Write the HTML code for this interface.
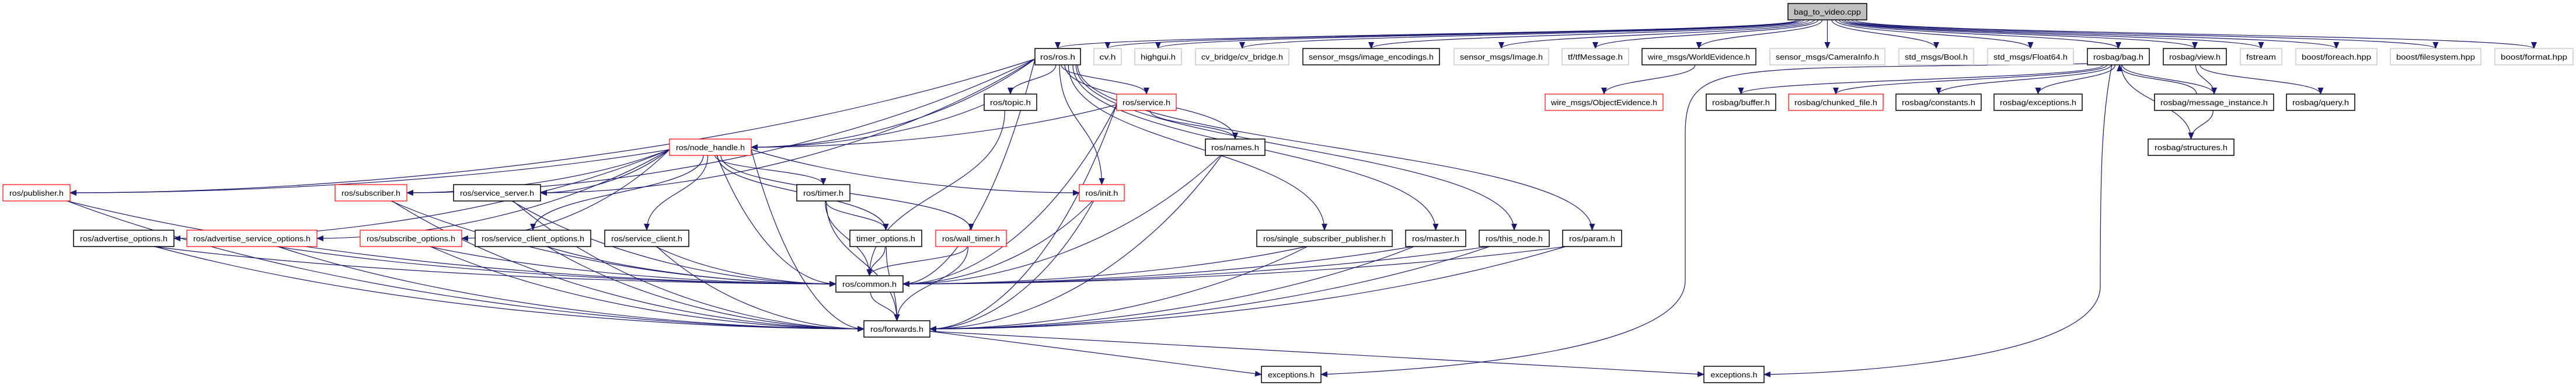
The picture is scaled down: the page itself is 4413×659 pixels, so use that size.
<!DOCTYPE html>
<html><head><meta charset="utf-8"><style>
html,body{margin:0;padding:0;background:#fff;}
svg{display:block;}
text{font-family:"Liberation Sans","DejaVu Sans",sans-serif;font-size:13px;fill:#000;}
</style></head><body>
<svg id="g" width="4413" height="659" viewBox="0 0 4413 659" xmlns="http://www.w3.org/2000/svg">
<defs><marker id="a" markerWidth="12" markerHeight="10" refX="11" refY="5" orient="auto" markerUnits="userSpaceOnUse"><path d="M0,0 L12,5 L0,10 z" fill="#191970"/></marker></defs>
<g id="edges" fill="none" stroke="#191970" stroke-width="1.2"></g>
<g id="nodes">
<rect x="3063" y="6" width="135" height="28" fill="#bfbfbf" stroke="#000" stroke-width="1.5"/><text x="3130.5" y="25" text-anchor="middle" textLength="115" lengthAdjust="spacingAndGlyphs">bag_to_video.cpp</text>
</g>
</svg>
<script>
var R=[6,83,161,238,316,394,472,549,627];
var N={
top:["bag_to_video.cpp",3063,3198,0,"t"],
ros:["ros/ros.h",1773,1851,1,"b"],
cv:["cv.h",1874,1921,1,"g"],
hg:["highgui.h",1944,2024,1,"g"],
cvb:["cv_bridge/cv_bridge.h",2048,2208,1,"g"],
ie:["sensor_msgs/image_encodings.h",2232,2466,1,"b"],
img:["sensor_msgs/Image.h",2491,2653,1,"g"],
tf:["tf/tfMessage.h",2676,2790,1,"g"],
we:["wire_msgs/WorldEvidence.h",2813,3008,1,"b"],
ci:["sensor_msgs/CameraInfo.h",3032,3229,1,"g"],
bo:["std_msgs/Bool.h",3253,3381,1,"g"],
f64:["std_msgs/Float64.h",3405,3552,1,"g"],
bag:["rosbag/bag.h",3576,3682,1,"b"],
view:["rosbag/view.h",3706,3814,1,"b"],
fs:["fstream",3838,3909,1,"g"],
fe:["boost/foreach.hpp",3933,4072,1,"g"],
fsy:["boost/filesystem.hpp",4095,4250,1,"g"],
fmt:["boost/format.hpp",4274,4408,1,"g"],
topic:["ros/topic.h",1686,1776,2,"b"],
srv:["ros/service.h",1913,2015,2,"r"],
oe:["wire_msgs/ObjectEvidence.h",2647,2849,2,"r"],
buf:["rosbag/buffer.h",2923,3042,2,"b"],
cf:["rosbag/chunked_file.h",3064,3226,2,"r"],
con:["rosbag/constants.h",3248,3394,2,"b"],
rex:["rosbag/exceptions.h",3416,3567,2,"b"],
mi:["rosbag/message_instance.h",3691,3895,2,"b"],
q:["rosbag/query.h",3917,4034,2,"b"],
nh:["ros/node_handle.h",1147,1287,3,"r"],
names:["ros/names.h",2065,2167,3,"b"],
st:["rosbag/structures.h",3680,3827,3,"b"],
pub:["ros/publisher.h",5,120,4,"r"],
sub:["ros/subscriber.h",574,697,4,"r"],
ss:["ros/service_server.h",777,926,4,"b"],
tim:["ros/timer.h",1365,1456,4,"b"],
init:["ros/init.h",1849,1926,4,"r"],
ao:["ros/advertise_options.h",126,298,5,"b"],
aso:["ros/advertise_service_options.h",320,543,5,"r"],
so:["ros/subscribe_options.h",617,791,5,"r"],
sco:["ros/service_client_options.h",814,1012,5,"b"],
sc:["ros/service_client.h",1036,1180,5,"b"],
to:["timer_options.h",1456,1579,5,"b"],
wt:["ros/wall_timer.h",1603,1724,5,"r"],
ssp:["ros/single_subscriber_publisher.h",2153,2385,5,"b"],
ma:["ros/master.h",2408,2511,5,"b"],
tn:["ros/this_node.h",2534,2654,5,"b"],
par:["ros/param.h",2677,2778,5,"b"],
com:["ros/common.h",1432,1547,6,"b"],
fwd:["ros/forwards.h",1480,1593,7,"b"],
ex1:["exceptions.h",2161,2263,8,"b"],
ex2:["exceptions.h",2919,3022,8,"b"]
};
var E=[];
["ros","cv","hg","cvb","ie","img","tf","we","ci","bo","f64","bag","view","fs","fe","fsy","fmt"].forEach(function(t){E.push(["top",t]);});
E.push(["we","oe"]);
["topic","srv","nh","pub","sub","ss","init","names","ssp","ma","tn","par","com"].forEach(function(t){E.push(["ros",t]);});
E.push(["topic","nh"],["topic","com"],["srv","nh"],["srv","names"],["srv","com"],["srv","fwd"],["names","com"],["names","fwd"]);
["pub","sub","ss","tim","ao","aso","so","sco","sc","to","wt","com","fwd","init"].forEach(function(t){E.push(["nh",t]);});
["pub","sub","ss","ao","aso","so","sco","sc","to","wt","init","ssp","ma","tn","par","tim"].forEach(function(s){E.push([s,"com"]);E.push([s,"fwd"]);});
E.push(["tim","to"],["com","fwd"],["fwd","ex1"],["fwd","ex2"]);
["buf","cf","con","rex","mi","st","ex1","ex2"].forEach(function(t){E.push(["bag",t]);});
E.push(["view","mi"],["view","q"],["mi","bag"],["mi","st"]);
var SIDE={"nh>pub":1,"nh>sub":1,"ros>nh":1,"ros>pub":1,"ros>sub":1,"topic>nh":1,"srv>nh":1,"nh>init":1,"nh>aso":1,"nh>so":1,"nh>ao":1,"ros>ss":1,"nh>ss":1};
var SIDESRC={nh:1,ros:1,topic:1,srv:1};
var eg=document.getElementById("edges"),ng=document.getElementById("nodes");
var NS="http://www.w3.org/2000/svg";
function cx(n){return (n[1]+n[2])/2;}
E.forEach(function(e){
 var s=N[e[0]],t=N[e[1]];var sx,sy,tx,ty,d;
 if(t[3]>s[3]){
  sx=cx(s)+(cx(t)-cx(s))*0.04;sx=Math.max(s[1]+5,Math.min(s[2]-5,sx));sy=R[s[3]]+28;
  tx=cx(t);ty=R[t[3]];
  var dx=Math.abs(tx-sx),dy=ty-sy;
  var side=SIDE[e[0]+">"+e[1]]||((e[1]=="com"||e[1]=="fwd")&&dx>250);
  if(e[0]=="bag"&&e[1]=="ex1"){sx=3576;sy=R[1]+26;d="M"+sx+","+sy+" C2950,120 2887,100 2887,230 L2887,480 C2887,610 2400,635 2263,641";}
  else if(e[0]=="bag"&&e[1]=="ex2"){sx=3618;d="M"+sx+","+sy+" C3600,200 3598,300 3598,490 C3598,610 3200,638 3022,641";}
  else if(e[1]=="ex1"||e[1]=="ex2"){sy=R[7]+18;sx=s[2];tx=t[1];ty=R[8]+14;d="M"+sx+","+sy+" L"+tx+","+ty;}
  else if(side){
   var left=tx>sx; tx=left?t[1]:t[2]; ty=R[t[3]]+14;
   if(SIDESRC[e[0]]&&Math.abs(cx(t)-cx(s))>300){sy=R[s[3]]+18;sx=left?s[2]:s[1];}
   var ddx=tx-sx;
   d="M"+sx+","+sy+" C"+(sx+ddx*0.3)+","+(sy+(ty-sy)*0.7)+" "+(tx-ddx*0.3)+","+ty+" "+tx+","+ty;
  }
  else{var m=(ty-sy)*0.5;d="M"+sx+","+sy+" C"+sx+","+(sy+m)+" "+tx+","+(ty-m)+" "+tx+","+ty;}
 } else {
  sx=cx(s)-30;sy=R[s[3]];tx=t[1]+55;ty=R[t[3]]+28;
  d="M"+sx+","+sy+" C"+sx+","+(sy-30)+" "+tx+","+(ty+30)+" "+tx+","+ty;
 }
 var p=document.createElementNS(NS,"path");p.setAttribute("d",d);p.setAttribute("marker-end","url(#a)");eg.appendChild(p);
});
for(var k in N){if(k=="top")continue;var n=N[k];
 var r=document.createElementNS(NS,"rect");r.setAttribute("x",n[1]);r.setAttribute("y",R[n[3]]);r.setAttribute("width",n[2]-n[1]);r.setAttribute("height",28);r.setAttribute("fill","#fff");
 r.setAttribute("stroke",n[4]=="r"?"#ff0000":(n[4]=="g"?"#bfbfbf":"#000"));r.setAttribute("stroke-width",n[4]=="b"?"1.5":"1.2");ng.appendChild(r);
}
</script>
<div style="position:absolute;left:0;top:0;width:4413px;height:659px;pointer-events:none">
<svg width="4413" height="659" xmlns="http://www.w3.org/2000/svg" style="position:absolute;left:0;top:0">
<g text-anchor="middle" style="font-family:'Liberation Sans','DejaVu Sans',sans-serif;font-size:13px">
<text x="1812" y="102" textLength="60" lengthAdjust="spacingAndGlyphs">ros/ros.h</text>
<text x="1897.5" y="102" textLength="28" lengthAdjust="spacingAndGlyphs">cv.h</text>
<text x="1984" y="102" textLength="60" lengthAdjust="spacingAndGlyphs">highgui.h</text>
<text x="2128" y="102" textLength="140" lengthAdjust="spacingAndGlyphs">cv_bridge/cv_bridge.h</text>
<text x="2349" y="102" textLength="214" lengthAdjust="spacingAndGlyphs">sensor_msgs/image_encodings.h</text>
<text x="2572" y="102" textLength="142" lengthAdjust="spacingAndGlyphs">sensor_msgs/Image.h</text>
<text x="2733" y="102" textLength="94" lengthAdjust="spacingAndGlyphs">tf/tfMessage.h</text>
<text x="2910.5" y="102" textLength="175" lengthAdjust="spacingAndGlyphs">wire_msgs/WorldEvidence.h</text>
<text x="3130.5" y="102" textLength="177" lengthAdjust="spacingAndGlyphs">sensor_msgs/CameraInfo.h</text>
<text x="3317" y="102" textLength="108" lengthAdjust="spacingAndGlyphs">std_msgs/Bool.h</text>
<text x="3478.5" y="102" textLength="127" lengthAdjust="spacingAndGlyphs">std_msgs/Float64.h</text>
<text x="3629" y="102" textLength="86" lengthAdjust="spacingAndGlyphs">rosbag/bag.h</text>
<text x="3760" y="102" textLength="88" lengthAdjust="spacingAndGlyphs">rosbag/view.h</text>
<text x="3873.5" y="102" textLength="51" lengthAdjust="spacingAndGlyphs">fstream</text>
<text x="4002.5" y="102" textLength="119" lengthAdjust="spacingAndGlyphs">boost/foreach.hpp</text>
<text x="4172.5" y="102" textLength="135" lengthAdjust="spacingAndGlyphs">boost/filesystem.hpp</text>
<text x="4341" y="102" textLength="114" lengthAdjust="spacingAndGlyphs">boost/format.hpp</text>
<text x="1731" y="180" textLength="70" lengthAdjust="spacingAndGlyphs">ros/topic.h</text>
<text x="1964" y="180" textLength="82" lengthAdjust="spacingAndGlyphs">ros/service.h</text>
<text x="2748" y="180" textLength="182" lengthAdjust="spacingAndGlyphs">wire_msgs/ObjectEvidence.h</text>
<text x="2982.5" y="180" textLength="99" lengthAdjust="spacingAndGlyphs">rosbag/buffer.h</text>
<text x="3145" y="180" textLength="142" lengthAdjust="spacingAndGlyphs">rosbag/chunked_file.h</text>
<text x="3321" y="180" textLength="126" lengthAdjust="spacingAndGlyphs">rosbag/constants.h</text>
<text x="3491.5" y="180" textLength="131" lengthAdjust="spacingAndGlyphs">rosbag/exceptions.h</text>
<text x="3793" y="180" textLength="184" lengthAdjust="spacingAndGlyphs">rosbag/message_instance.h</text>
<text x="3975.5" y="180" textLength="97" lengthAdjust="spacingAndGlyphs">rosbag/query.h</text>
<text x="1217" y="257" textLength="118" lengthAdjust="spacingAndGlyphs">ros/node_handle.h</text>
<text x="2116" y="257" textLength="82" lengthAdjust="spacingAndGlyphs">ros/names.h</text>
<text x="3753.5" y="257" textLength="125" lengthAdjust="spacingAndGlyphs">rosbag/structures.h</text>
<text x="62.5" y="335" textLength="93" lengthAdjust="spacingAndGlyphs">ros/publisher.h</text>
<text x="635.5" y="335" textLength="101" lengthAdjust="spacingAndGlyphs">ros/subscriber.h</text>
<text x="851.5" y="335" textLength="127" lengthAdjust="spacingAndGlyphs">ros/service_server.h</text>
<text x="1410.5" y="335" textLength="69" lengthAdjust="spacingAndGlyphs">ros/timer.h</text>
<text x="1887.5" y="335" textLength="56" lengthAdjust="spacingAndGlyphs">ros/init.h</text>
<text x="212" y="413" textLength="150" lengthAdjust="spacingAndGlyphs">ros/advertise_options.h</text>
<text x="431.5" y="413" textLength="201" lengthAdjust="spacingAndGlyphs">ros/advertise_service_options.h</text>
<text x="704" y="413" textLength="152" lengthAdjust="spacingAndGlyphs">ros/subscribe_options.h</text>
<text x="913" y="413" textLength="176" lengthAdjust="spacingAndGlyphs">ros/service_client_options.h</text>
<text x="1108" y="413" textLength="122" lengthAdjust="spacingAndGlyphs">ros/service_client.h</text>
<text x="1517.5" y="413" textLength="101" lengthAdjust="spacingAndGlyphs">timer_options.h</text>
<text x="1663.5" y="413" textLength="99" lengthAdjust="spacingAndGlyphs">ros/wall_timer.h</text>
<text x="2269" y="413" textLength="210" lengthAdjust="spacingAndGlyphs">ros/single_subscriber_publisher.h</text>
<text x="2459.5" y="413" textLength="81" lengthAdjust="spacingAndGlyphs">ros/master.h</text>
<text x="2594" y="413" textLength="98" lengthAdjust="spacingAndGlyphs">ros/this_node.h</text>
<text x="2727.5" y="413" textLength="79" lengthAdjust="spacingAndGlyphs">ros/param.h</text>
<text x="1489.5" y="491" textLength="93" lengthAdjust="spacingAndGlyphs">ros/common.h</text>
<text x="1536.5" y="568" textLength="91" lengthAdjust="spacingAndGlyphs">ros/forwards.h</text>
<text x="2212" y="646" textLength="80" lengthAdjust="spacingAndGlyphs">exceptions.h</text>
<text x="2970.5" y="646" textLength="80" lengthAdjust="spacingAndGlyphs">exceptions.h</text>
</g></svg></div>
</body></html>
